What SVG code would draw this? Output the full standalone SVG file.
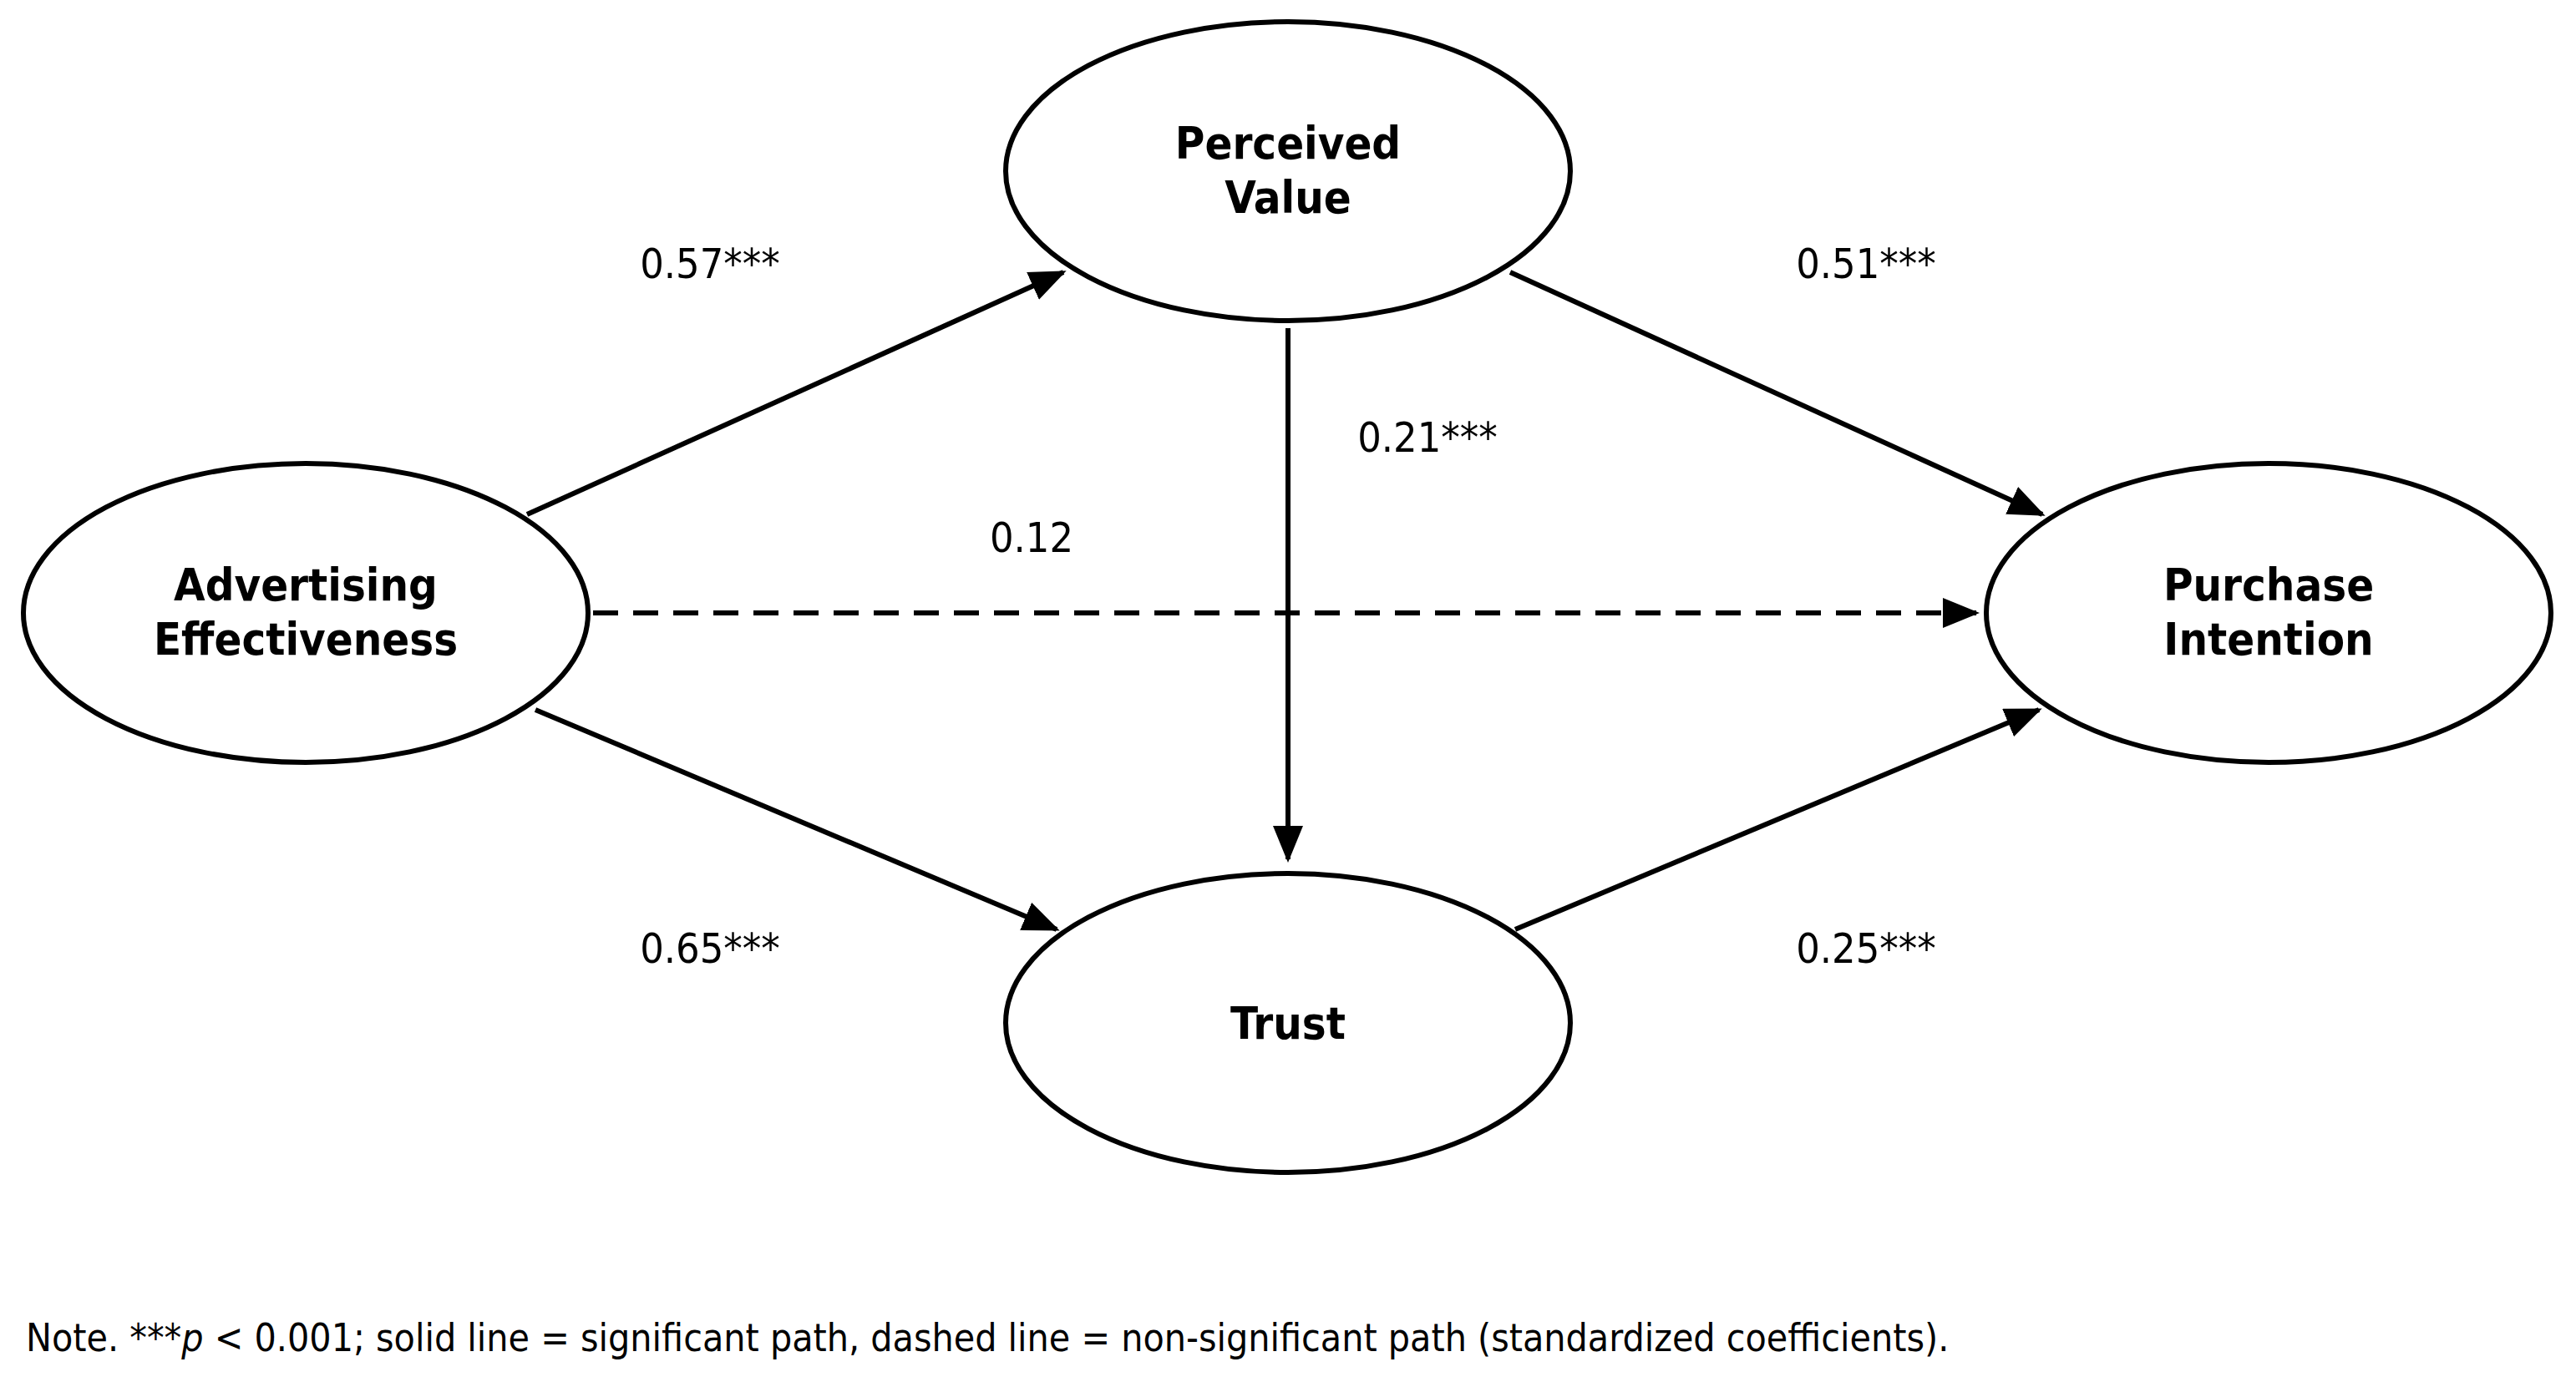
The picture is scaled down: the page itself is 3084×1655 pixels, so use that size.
<svg xmlns="http://www.w3.org/2000/svg" width="3084" height="1655" viewBox="0 0 3084 1655">
<style>
.n{fill:#fff;stroke:#000;stroke-width:6}
.l{font-family:"DejaVu Sans Condensed","DejaVu Sans",sans-serif;font-weight:bold;font-size:54px;text-anchor:middle}
.c{font-family:"DejaVu Sans Condensed","DejaVu Sans",sans-serif;font-size:50px;text-anchor:middle}
.e{stroke:#000;stroke-width:6;fill:none;marker-end:url(#a)}
</style>
<defs><marker id="a" markerUnits="userSpaceOnUse" markerWidth="44" markerHeight="36" refX="40" refY="18" orient="auto"><path d="M0,0 L44,18 L0,36 Z" fill="#000"/></marker></defs>
<rect width="3084" height="1655" fill="#fff"/>
<g id="edges">
<line class="e" x1="631" y1="616" x2="1273" y2="326"/>
<line class="e" x1="1808" y1="326" x2="2445" y2="616"/>
<line class="e" x1="641" y1="850" x2="1265" y2="1113"/>
<line class="e" x1="1814" y1="1113" x2="2441" y2="850"/>
<line class="e" x1="1542" y1="393" x2="1542" y2="1029"/>
<line class="e" x1="710" y1="734" x2="2366" y2="734" stroke-dasharray="30,18"/>
<text class="c" x="850" y="333">0.57***</text>
<text class="c" x="2234" y="333">0.51***</text>
<text class="c" x="1709" y="541">0.21***</text>
<text class="c" x="1235" y="661">0.12</text>
<text class="c" x="850" y="1153">0.65***</text>
<text class="c" x="2234" y="1153">0.25***</text>
</g>
<g id="pv"><ellipse class="n" cx="1542" cy="205" rx="338" ry="179"/><text class="l" x="1542" y="190">Perceived</text><text class="l" x="1542" y="255">Value</text></g>
<g id="ae"><ellipse class="n" cx="366" cy="734" rx="338" ry="179"/><text class="l" x="366" y="719">Advertising</text><text class="l" x="366" y="784">Effectiveness</text></g>
<g id="pi"><ellipse class="n" cx="2716" cy="734" rx="338" ry="179"/><text class="l" x="2716" y="719">Purchase</text><text class="l" x="2716" y="784">Intention</text></g>
<g id="tr"><ellipse class="n" cx="1542" cy="1225" rx="338" ry="179"/><text class="l" x="1542" y="1244">Trust</text></g>
<text x="31" y="1618" font-family="DejaVu Sans Condensed,DejaVu Sans,sans-serif" font-size="46">Note. ***<tspan font-style="italic">p</tspan> &lt; 0.001; solid line = significant path, dashed line = non-significant path (standardized coefficients).</text>
</svg>
